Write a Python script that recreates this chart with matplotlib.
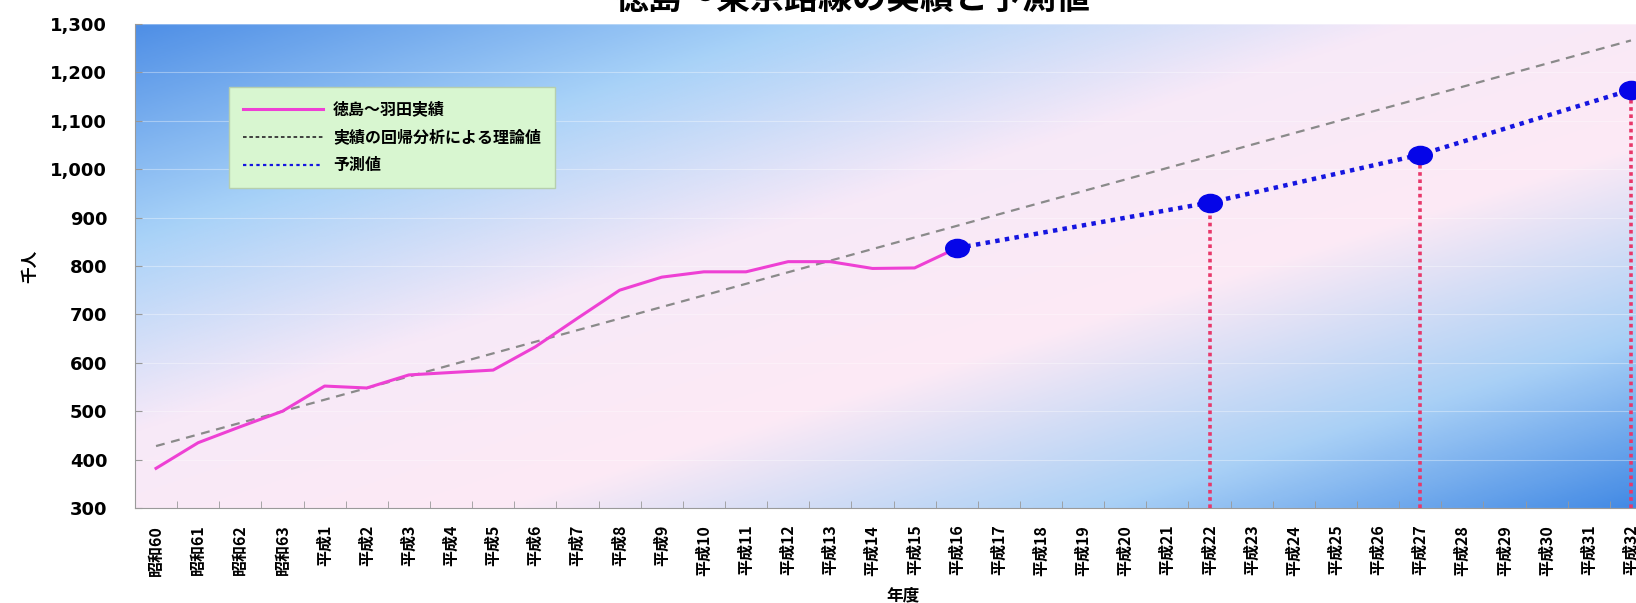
import numpy as np
import matplotlib
matplotlib.use("Agg")
from matplotlib import pyplot as plt
from matplotlib.colors import LinearSegmentedColormap
from matplotlib.lines import Line2D
from matplotlib.path import Path
from matplotlib.transforms import Affine2D

plt.rcParams['font.family'] = ['Noto Sans CJK JP', 'DejaVu Sans']
plt.rcParams['font.weight'] = 'bold'

years = ['昭和60', '昭和61', '昭和62', '昭和63'] + ['平成%d' % n for n in range(1, 33)]

# 徳島～羽田 実績 (昭和60～平成16), 千人
actual = [382, 435, 468, 500, 552, 548, 575, 580, 585, 633,
          692, 750, 777, 788, 788, 809, 809, 795, 796, 837]

# regression line (straight, end points only)
trend_years = ['昭和60', '平成32']
trend = [428, 1266]

fc_years = ['平成16', '平成22', '平成27', '平成32']
forecast = [837, 931, 1030, 1164]
drop_years = ['平成22', '平成27', '平成32']

labels = ['徳島～羽田実績', '実績の回帰分析による理論値', '予測値']

pos = {y: i for i, y in enumerate(years)}

fig = plt.figure(figsize=(16.36, 6.03), dpi=100)
ax = fig.add_axes([0.0825, 0.1575, 0.9273, 0.8027])

# diagonal blue / pink / blue background
gx, gy = np.meshgrid(np.linspace(0, 1, 400), np.linspace(1, 0, 200))
t = (gx + (1 - gy)) / 2
bg = LinearSegmentedColormap.from_list('bg', [
    (0.0, '#4f8fe6'), (0.22, '#a8d2f8'), (0.42, '#f7e9f8'),
    (0.62, '#fdeaf5'), (0.82, '#a9d0f6'), (1.0, '#4088e4')])
ax.imshow(t, cmap=bg, extent=[0, 1, 0, 1], transform=ax.transAxes,
          aspect='auto', zorder=0, interpolation='bicubic')

ax.plot(range(len(actual)), actual, color='#ee40d4', lw=2.2, zorder=3)
ax.plot([pos[y] for y in trend_years], trend, color='#8a8a8a', lw=1.6,
        ls=(0, (4, 3)), zorder=2)

fx = [pos[y] for y in fc_years]
ax.plot(fx, forecast, color='#1515e0', lw=3.2, ls=(0, (1, 1.2)), zorder=4)
ell = Path.unit_circle().transformed(Affine2D().scale(1.3, 1.0))
ax.plot(fx, forecast, ls='none', marker=ell, ms=17, color='#0505e8', zorder=5)

ax.vlines([pos[y] for y in drop_years], 300,
          [forecast[fc_years.index(y)] for y in drop_years],
          colors='#e8386a', lw=2.6, linestyles=(0, (1, 1)), zorder=3)

ax.set_xlim(-0.5, 35.5)
ax.set_ylim(300, 1300)
yt = list(range(300, 1301, 100))
ax.set_yticks(yt)
ax.set_yticklabels(['{:,}'.format(v) for v in yt], family='DejaVu Sans',
                   weight='bold', fontsize=13)
ax.set_xticks(range(len(years)))
ax.set_xticklabels(years, rotation=90, fontsize=11.5)
ax.set_xticks(np.arange(-0.5, len(years), 1), minor=True)
ax.tick_params(axis='x', which='major', length=0, pad=12)
ax.tick_params(axis='x', which='minor', direction='in', length=5, color='#999999')
ax.tick_params(axis='y', direction='in', length=5, color='#999999', pad=20)
for s in ['top', 'right']:
    ax.spines[s].set_visible(False)
for s in ['left', 'bottom']:
    ax.spines[s].set_color('#9a9a9a')
ax.set_axisbelow(True)
ax.grid(axis='y', color='white', alpha=0.35, lw=0.8)

handles = [Line2D([], [], color='#ee40d4', lw=2.2),
           Line2D([], [], color='#333333', lw=1.3, ls=(0, (2, 1.5))),
           Line2D([], [], color='#1515e0', lw=1.6, ls=(0, (1.5, 1.5)))]
leg = ax.legend(handles, labels, loc='upper left', bbox_to_anchor=(0.062, 0.870),
                borderaxespad=0, prop={'weight': 'bold', 'size': 11.5},
                handlelength=5.0, handletextpad=0.6, labelspacing=0.75,
                borderpad=0.9, fancybox=False, framealpha=1)
leg.get_frame().set_facecolor('#d8f6d0')
leg.get_frame().set_edgecolor('#b6cfae')

fig.text(0.521, 1.003, '徳島～東京路線の実績と予測値', ha='center', va='center',
         fontsize=24.5, weight='bold')
fig.text(30 / 1636, 1 - 266 / 603, '千人', rotation=90, ha='center', va='center', fontsize=12)
fig.text(903 / 1636, 1 - 595 / 603, '年度', ha='center', va='center', fontsize=12)

fig.savefig('out.png', dpi=100)
